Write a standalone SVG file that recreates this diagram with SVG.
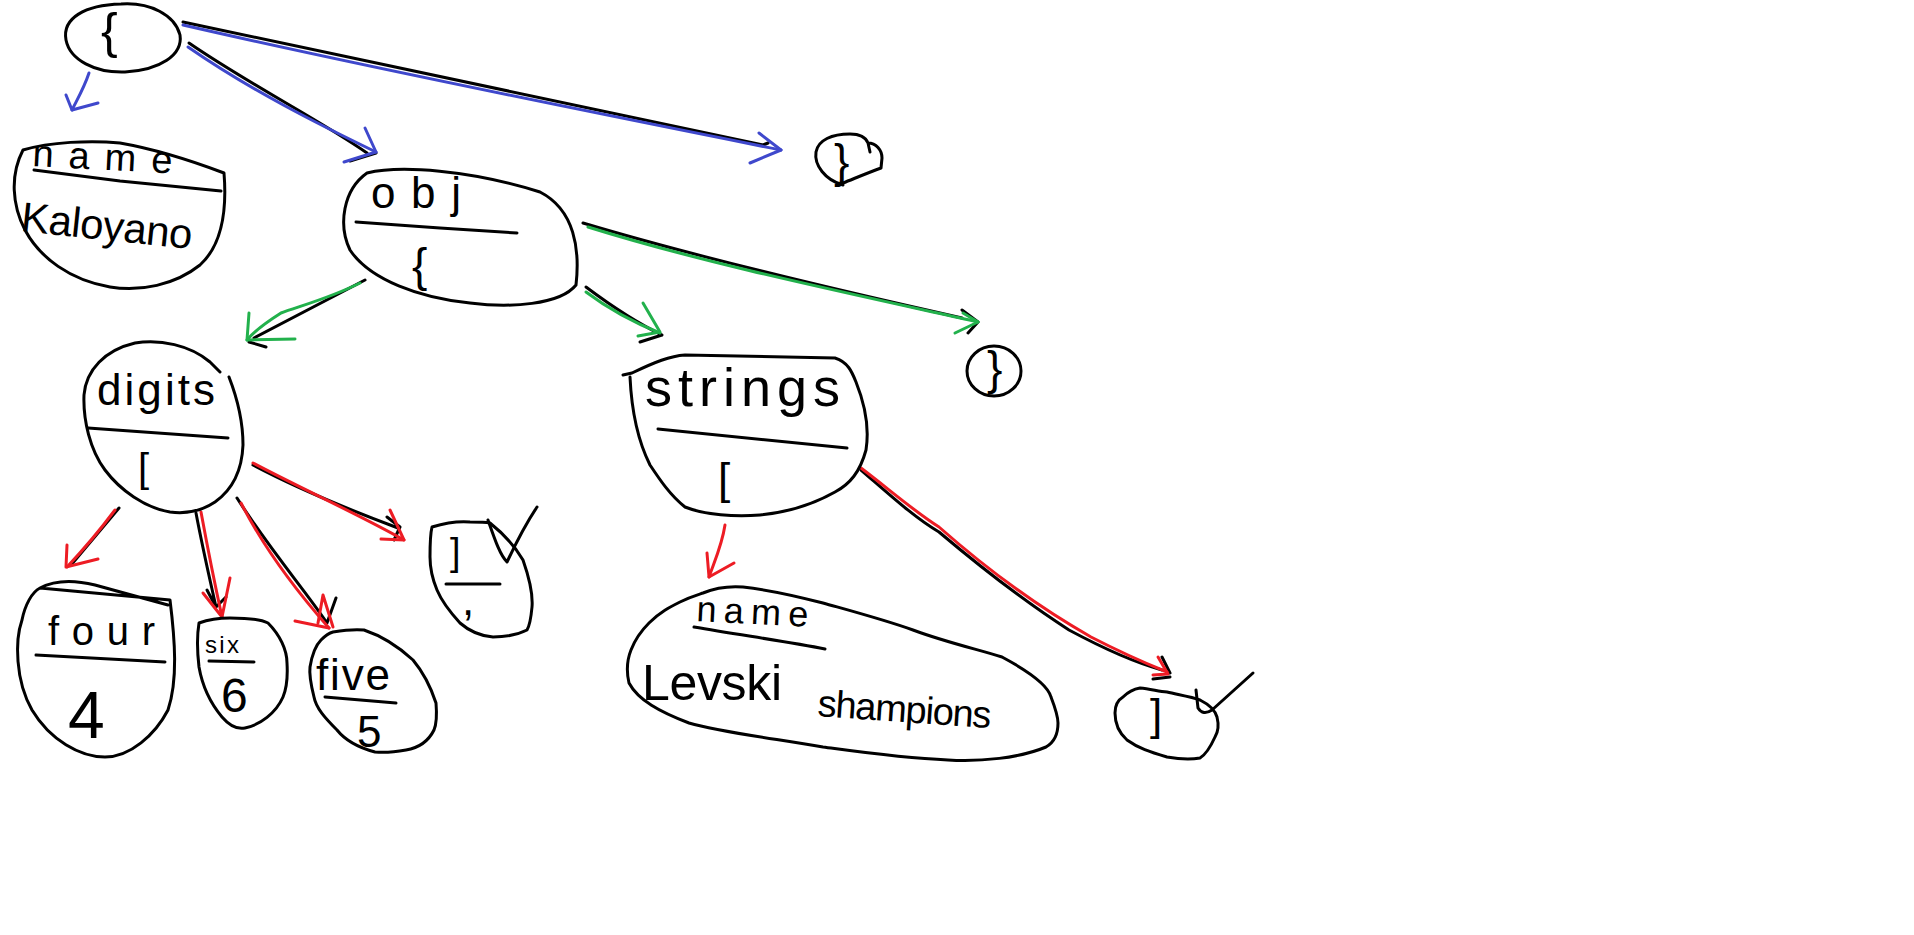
<svg xmlns="http://www.w3.org/2000/svg" width="1914" height="935" viewBox="0 0 1914 935">
<style>
.o{fill:none;stroke:#000;stroke-width:3;stroke-linecap:round;stroke-linejoin:round}
.b{fill:none;stroke:#3f48cc;stroke-width:3;stroke-linecap:round;stroke-linejoin:round}
.g{fill:none;stroke:#22b14c;stroke-width:3;stroke-linecap:round;stroke-linejoin:round}
.r{fill:none;stroke:#ed1c24;stroke-width:3;stroke-linecap:round;stroke-linejoin:round}
text{font-family:"Liberation Sans",Arial,sans-serif;fill:#000}
</style>
<rect width="1914" height="935" fill="#fff"/>
<g id="connectors">
  <g id="c-root-name">
    <path class="b" d="M89,73 C84,88 78,98 72,110"/>
    <path class="b" d="M66,95 L72,110 L98,103"/>
  </g>
  <g id="c-root-obj">
    <path class="o" d="M189,43 C250,85 320,120 367,153 M350,161 L376,153"/>
    <path class="b" d="M188,47 C250,90 320,125 376,152"/>
    <path class="b" d="M365,128 L376,152 L344,162"/>
  </g>
  <g id="c-root-close">
    <path class="o" d="M183,22 C300,46 520,94 763,145 L768,143"/>
    <path class="b" d="M183,25 C300,52 520,98 781,150"/>
    <path class="b" d="M759,133 L781,150 L750,163"/>
  </g>
  <g id="c-obj-digits">
    <path class="o" d="M365,280 L254,338 M249,342 L266,347"/>
    <path class="g" d="M360,283 C330,298 300,306 281,313 C270,320 255,330 247,340"/>
    <path class="g" d="M249,313 L247,340 L295,339"/>
  </g>
  <g id="c-obj-strings">
    <path class="o" d="M586,287 C610,305 635,322 662,335 M640,342 L662,335"/>
    <path class="g" d="M586,292 C610,310 640,325 660,333"/>
    <path class="g" d="M643,303 L660,332 L638,336"/>
  </g>
  <g id="c-obj-close">
    <path class="o" d="M583,223 C700,258 850,293 962,318 M962,310 L978,322 L968,333"/>
    <path class="g" d="M588,227 C700,262 833,290 978,322"/>
    <path class="g" d="M955,333 L978,322 L963,313"/>
  </g>
  <g id="c-digits-four">
    <path class="o" d="M119,508 L71,565"/>
    <path class="r" d="M115,510 C100,530 85,548 67,567"/>
    <path class="r" d="M67,545 L66,567 L98,559"/>
  </g>
  <g id="c-digits-six">
    <path class="o" d="M196,513 C203,550 210,580 216,607 M207,590 L216,607 L226,597"/>
    <path class="r" d="M201,512 C208,550 215,585 222,617"/>
    <path class="r" d="M203,593 L222,617 L230,578"/>
  </g>
  <g id="c-digits-five">
    <path class="o" d="M237,498 C270,550 305,590 327,623 M336,598 L327,623"/>
    <path class="r" d="M241,503 C265,550 300,595 329,628"/>
    <path class="r" d="M295,621 L329,628 M318,623 L323,595 L333,627"/>
  </g>
  <g id="c-digits-end">
    <path class="o" d="M253,465 C300,490 350,510 398,528 M387,517 L400,527 L394,540"/>
    <path class="r" d="M253,463 C300,488 360,515 404,540"/>
    <path class="r" d="M390,510 L404,540 L381,539"/>
  </g>
  <g id="c-strings-name">
    <path class="r" d="M725,525 C722,545 715,560 709,577"/>
    <path class="r" d="M707,553 L709,577 L734,563"/>
  </g>
  <g id="c-strings-end">
    <path class="o" d="M861,470 C890,495 915,518 939,532 C990,575 1030,605 1069,630 C1110,652 1140,664 1162,670 M1162,657 L1170,673 M1153,679 L1170,677"/>
    <path class="r" d="M861,468 C890,490 915,512 939,527 C990,572 1040,608 1091,637 C1120,652 1145,663 1167,672"/>
    <path class="r" d="M1153,675 L1168,674 L1158,657"/>
  </g>
</g>
<g id="root">
  <path class="o" d="M121,4 C150,2 175,15 180,35 C183,55 160,70 125,72 C95,73 70,60 66,40 C62,18 85,5 121,4 Z"/>
  <text x="101" y="48" font-size="50">{</text>
</g>
<g id="name-kaloyano">
  <path class="o" d="M23,150 C50,142 90,140 120,143 C160,150 195,162 224,173 C227,210 222,245 200,265 C175,285 140,292 110,287 C70,280 40,258 25,230 C12,205 10,175 23,150"/>
  <text x="32" y="166" font-size="38" textLength="140" transform="rotate(3 32 166)">name</text>
  <path class="o" d="M34,170 L120,181 L221,191"/>
  <text x="20" y="231" font-size="42" textLength="172" transform="rotate(6 20 231)">Kaloyano</text>
</g>
<g id="close-root">
  <path class="o" d="M843,185 C825,180 814,165 816,152 C818,140 832,134 850,134 C860,134 866,138 868,143 C876,143 882,150 882,158 L881,168 C870,172 858,177 843,183 M868,143 L870,152"/>
  <text x="834" y="177" font-size="46">}</text>
</g>
<g id="obj">
  <path class="o" d="M367,173 C400,165 470,170 540,192 C575,210 580,250 576,285 C560,305 510,308 470,303 C420,298 370,280 350,250 C338,225 343,190 367,173 Z"/>
  <text x="371" y="208" font-size="44" textLength="90">obj</text>
  <path class="o" d="M356,222 L440,228 L517,233"/>
  <text x="412" y="281" font-size="46">{</text>
</g>
<g id="close-obj">
  <ellipse class="o" cx="994" cy="371" rx="27" ry="25"/>
  <text x="987" y="384" font-size="46">}</text>
</g>
<g id="digits">
  <path class="o" d="M229,377 C236,395 243,420 243,445 C242,470 232,490 215,502 C200,512 185,514 170,512 C145,508 120,490 105,470 C90,450 83,420 84,395 C86,370 105,350 135,343 C160,339 190,345 210,362 L220,372"/>
  <text x="97" y="405" font-size="44" textLength="118">digits</text>
  <path class="o" d="M88,428 L228,438"/>
  <text x="138" y="482" font-size="40">[</text>
</g>
<g id="four">
  <path class="o" d="M40,588 C55,580 75,580 95,585 C120,592 150,600 168,605 M170,600 C175,640 178,680 168,710 C155,735 130,757 105,757 C80,757 50,740 32,710 C15,680 15,640 22,620 C25,605 32,592 40,588 Z"/>
  <text x="48" y="645" font-size="40" textLength="107">four</text>
  <path class="o" d="M36,655 L165,662"/>
  <text x="68" y="738" font-size="66">4</text>
</g>
<g id="six">
  <path class="o" d="M199,623 C210,619 220,618 230,618 C250,618 262,620 268,623 C280,635 287,650 287,663 C288,680 286,690 283,697 C276,713 260,725 245,728 C235,730 228,724 222,717 C212,705 203,690 199,667 C197,650 197,635 199,623 Z"/>
  <text x="205" y="653" font-size="24" textLength="34">six</text>
  <path class="o" d="M209,661 L254,662"/>
  <text x="221" y="712" font-size="48">6</text>
</g>
<g id="five">
  <path class="o" d="M333,632 C345,630 355,629 364,630 C385,637 400,648 413,660 C428,678 435,700 436,703 C437,715 436,725 434,730 C428,742 418,748 406,750 C395,752 385,753 375,752 C360,748 345,740 337,730 C325,718 316,708 314,697 C311,685 309,675 310,667 C312,655 316,645 321,640 C325,636 329,633 333,632 Z"/>
  <text x="316" y="690" font-size="44" textLength="74">five</text>
  <path class="o" d="M325,697 L396,703"/>
  <text x="357" y="747" font-size="44">5</text>
</g>
<g id="digits-end">
  <path class="o" d="M432,527 C445,523 458,521 470,522 C478,522 485,522 490,523 C505,535 516,548 523,560 C530,580 533,595 532,607 C531,618 530,625 527,630 C515,636 505,637 493,637 C480,636 468,630 460,623 C450,612 442,602 437,590 C432,578 430,568 430,557 C430,545 430,535 432,527 Z"/>
  <path class="o" d="M488,520 C495,540 500,555 507,562 C515,545 525,525 537,507"/>
  <text x="450" y="565" font-size="38">]</text>
  <path class="o" d="M446,584 L500,584"/>
  <text x="462" y="615" font-size="44">,</text>
</g>
<g id="strings">
  <path class="o" d="M623,375 L632,373 C655,362 670,356 685,355 L835,358 C848,362 852,372 856,382 C864,402 870,425 866,450 C860,472 850,484 835,492 C812,505 790,512 760,515 C735,517 705,515 685,507 C670,495 660,480 650,465 C640,445 632,420 630,377"/>
  <text x="645" y="406" font-size="54" textLength="195">strings</text>
  <path class="o" d="M658,429 L847,448"/>
  <text x="718" y="494" font-size="44">[</text>
</g>
<g id="name-levski">
  <path class="o" d="M703,593 C715,588 730,586 743,587 C770,590 800,597 823,603 C855,612 885,620 913,630 C945,642 980,650 1002,657 C1030,672 1048,685 1051,697 C1056,710 1058,718 1058,723 C1058,735 1053,743 1046,747 C1020,758 980,762 948,760 C900,758 860,752 823,747 C770,738 720,732 689,723 C660,712 638,700 629,683 C626,670 627,660 631,650 C636,637 642,630 649,623 C660,612 670,607 680,602 C690,597 697,595 703,593 Z"/>
  <text x="696" y="621" font-size="36" textLength="112" transform="rotate(3 696 621)">name</text>
  <path class="o" d="M694,627 C740,635 790,642 825,649"/>
  <text x="642" y="700" font-size="50" textLength="140">Levski</text>
  <text x="817" y="716" font-size="38" textLength="174" transform="rotate(4 817 716)">shampions</text>
</g>
<g id="strings-end">
  <path class="o" d="M1140,688 C1150,689 1158,691 1167,692 C1180,695 1192,697 1200,700 C1210,705 1215,710 1217,717 C1219,725 1218,732 1215,737 C1210,748 1205,755 1200,758 C1190,760 1178,759 1167,757 C1150,752 1138,748 1127,740 C1118,732 1115,722 1115,713 C1115,705 1118,700 1123,697 C1128,692 1134,689 1140,688 Z"/>
  <path class="o" d="M1196,690 L1198,708 Q1203,716 1212,710 L1253,673"/>
  <text x="1150" y="730" font-size="44">]</text>
</g>
</svg>
